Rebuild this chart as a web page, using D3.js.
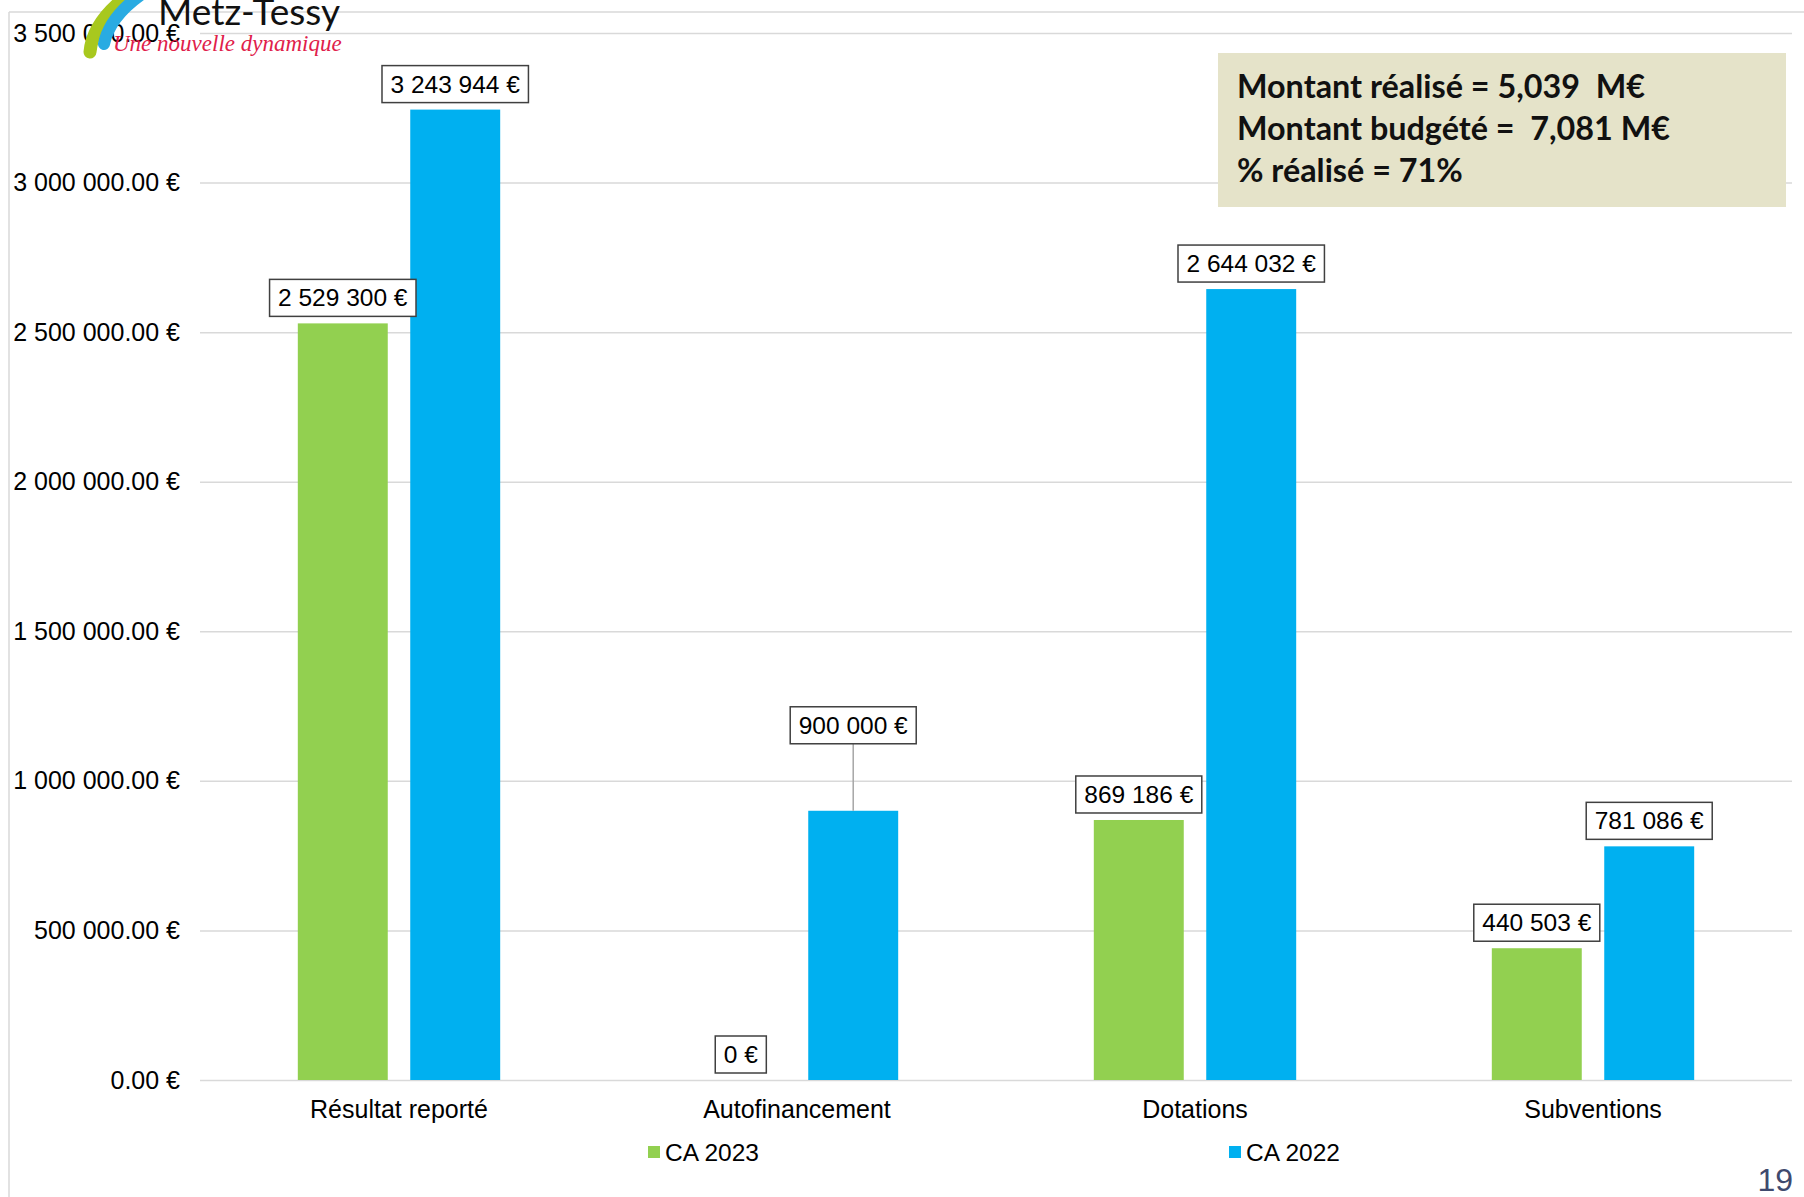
<!DOCTYPE html>
<html>
<head>
<meta charset="utf-8">
<script src="https://cdn.jsdelivr.net/npm/d3@7"></script>
<style>
  html, body { margin: 0; padding: 0; background: #fff; }
  svg { display: block; font-family: "Liberation Sans", Arial, sans-serif; }
</style>
</head>
<body>
<script>
// chart data
var categories = ["Résultat reporté", "Autofinancement", "Dotations", "Subventions"];
var seriesNames = ["CA 2023", "CA 2022"];
var ca2023 = [2529300, 0, 869186, 440503];
var ca2022 = [3243944, 900000, 2644032, 781086];
var yTicks = [0, 500000, 1000000, 1500000, 2000000, 2500000, 3000000, 3500000];
var noteLines = ["Montant réalisé = 5,039  M€", "Montant budgété =  7,081 M€", "% réalisé = 71%"];

var width = 1804, height = 1197;
var colors = ["#92D050", "#00B0F0"];

var svg = d3.select("body").append("svg")
    .attr("width", width)
    .attr("height", height);

// slide frame
svg.append("line").attr("x1", 9).attr("x2", width).attr("y1", 12).attr("y2", 12)
    .attr("stroke", "#D9D9D9").attr("stroke-width", 1.5);
svg.append("line").attr("x1", 9).attr("x2", 9).attr("y1", 12).attr("y2", height)
    .attr("stroke", "#D9D9D9").attr("stroke-width", 1.5);

// scales
var y = d3.scaleLinear().domain([0, 3500000]).range([1080, 33]);
var x0 = d3.scaleBand().domain(categories).range([200, 1792])
    .paddingInner(0.435).paddingOuter(0.2175);
var x1 = d3.scaleBand().domain(seriesNames).range([0, x0.bandwidth()])
    .paddingInner(0.2).paddingOuter(0.1);

// gridlines + y labels
var fmtAxis = function(v) { return d3.format(",.2f")(v).replace(/,/g, " ") + " €"; };
var yAxis = d3.axisLeft(y).tickValues(yTicks).tickFormat(fmtAxis)
    .tickSize(-(1792 - 200)).tickPadding(20);
var gy = svg.append("g").attr("transform", "translate(200,0)").call(yAxis);
gy.select(".domain").remove();
gy.selectAll(".tick line").attr("stroke", "#D9D9D9").attr("stroke-width", 1.5);
gy.selectAll(".tick text").attr("fill", "#000").style("font-size", "25px")
    .attr("font-family", "Liberation Sans, Arial, sans-serif");

// category axis labels
var xAxis = d3.axisBottom(x0).tickSize(0).tickPadding(20);
var gx = svg.append("g").attr("transform", "translate(0,1080)").call(xAxis);
gx.select(".domain").remove();
gx.selectAll(".tick text").attr("fill", "#000").style("font-size", "25px")
    .attr("font-family", "Liberation Sans, Arial, sans-serif");

// bars
var rows = categories.map(function(c, i) {
  return { cat: c, vals: [ca2023[i], ca2022[i]] };
});
var groups = svg.selectAll("g.grp").data(rows).enter().append("g")
    .attr("class", "grp")
    .attr("transform", function(d) { return "translate(" + x0(d.cat) + ",0)"; });

groups.selectAll("rect").data(function(d) {
  return d.vals.map(function(v, k) { return { s: seriesNames[k], k: k, v: v, cat: d.cat }; });
}).enter().append("rect")
    .attr("x", function(d) { return x1(d.s); })
    .attr("width", x1.bandwidth())
    .attr("y", function(d) { return y(d.v); })
    .attr("height", function(d) { return y(0) - y(d.v); })
    .attr("fill", function(d) { return colors[d.k]; });

// data labels (boxed)
var fmtLabel = function(v) { return d3.format(",.0f")(v).replace(/,/g, " ") + " €"; };
var liftedLabel = { cat: "Autofinancement", k: 1, lift: 60 }; // label dragged up with leader line

groups.each(function(d) {
  var g = d3.select(this);
  d.vals.forEach(function(v, k) {
    var cx = x1(seriesNames[k]) + x1.bandwidth() / 2;
    var lift = (d.cat === liftedLabel.cat && k === liftedLabel.k) ? liftedLabel.lift : 0;
    var boxBottom = y(v) - 7 - lift;
    var boxH = 37;
    if (lift > 0) {
      g.append("line").attr("x1", cx).attr("x2", cx)
          .attr("y1", boxBottom).attr("y2", y(v))
          .attr("stroke", "#A6A6A6").attr("stroke-width", 1.5);
    }
    var lab = g.append("g");
    var rect = lab.append("rect").attr("fill", "#fff")
        .attr("stroke", "#404040").attr("stroke-width", 1.5);
    var t = lab.append("text").attr("x", cx).attr("y", boxBottom - boxH / 2)
        .attr("text-anchor", "middle").attr("dominant-baseline", "central")
        .style("font-size", "24.5px").attr("fill", "#000")
        .text(fmtLabel(v));
    var w = t.node().getComputedTextLength() + 17;
    rect.attr("x", cx - w / 2).attr("y", boxBottom - boxH).attr("width", w).attr("height", boxH);
  });
});

// legend
var legendX = [648, 1229];
seriesNames.forEach(function(s, k) {
  svg.append("rect").attr("x", legendX[k]).attr("y", 1146).attr("width", 12).attr("height", 12)
      .attr("fill", colors[k]);
  svg.append("text").attr("x", legendX[k] + 17).attr("y", 1152)
      .attr("dominant-baseline", "central").style("font-size", "24.5px").attr("fill", "#000")
      .text(s);
});

// summary box
svg.append("rect").attr("x", 1218).attr("y", 53).attr("width", 568).attr("height", 154)
    .attr("fill", "#E5E3C9");
var note = svg.append("g");
var noteBase = [98, 140, 182];
noteLines.forEach(function(l, i) {
  note.append("text").attr("x", 1237).attr("y", noteBase[i])
      .attr("font-family", "Lato, 'Open Sans', sans-serif").attr("font-weight", "bold")
      .style("white-space", "pre")
      .style("font-size", "32px").attr("fill", "#111").text(l);
});
// fit first line to the width seen on the slide
var w0 = note.select("text").node().getComputedTextLength();
note.selectAll("text").style("font-size", (32 * 408 / w0) + "px");

// logo (partly off the top of the slide)
var logo = svg.append("g");
logo.append("path").attr("d", "M90,52 C92,30 108,10 130,-6")
    .attr("fill", "none").attr("stroke", "#A8C81E").attr("stroke-width", 13).attr("stroke-linecap", "round");
logo.append("path").attr("d", "M104,44 C108,24 122,8 142,-6")
    .attr("fill", "none").attr("stroke", "#29ABE2").attr("stroke-width", 12).attr("stroke-linecap", "round");
logo.append("text").attr("x", 158).attr("y", 25)
    .attr("font-family", "Lato, sans-serif").style("font-size", "37px").attr("fill", "#111")
    .text("Metz-Tessy");
logo.append("text").attr("x", 113).attr("y", 51)
    .attr("font-family", "'Liberation Serif', serif").attr("font-style", "italic")
    .style("font-size", "23px").attr("fill", "#E0204A")
    .text("Une nouvelle dynamique");

// page number
svg.append("text").attr("x", 1793).attr("y", 1191).attr("text-anchor", "end")
    .style("font-size", "32px").attr("fill", "#3F4A6E").text("19");
</script>
</body>
</html>
